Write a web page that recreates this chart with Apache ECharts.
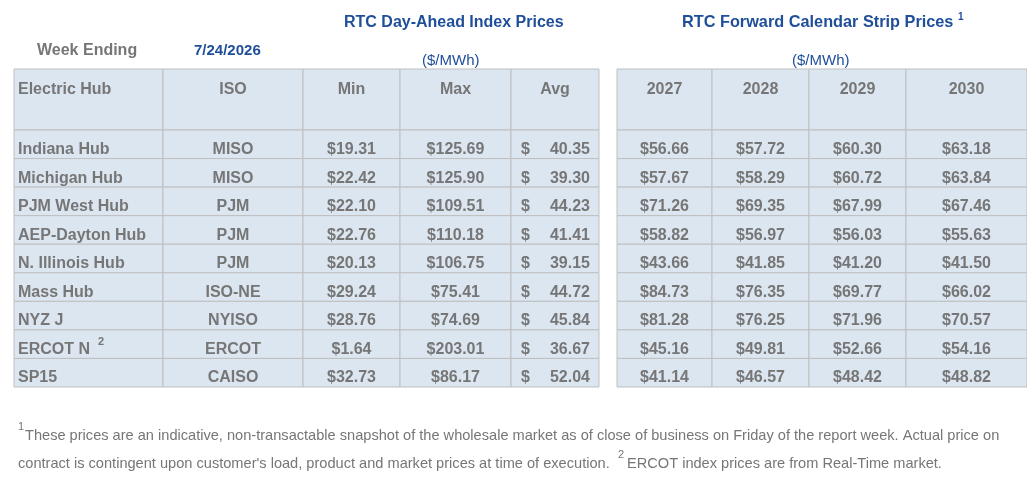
<!DOCTYPE html>
<html><head><meta charset="utf-8">
<script src="https://cdn.jsdelivr.net/npm/echarts@6/dist/echarts.min.js"></script>
<style>html,body{margin:0;padding:0;background:#fff}#c{width:1027px;height:489px}</style>
</head><body><div id="c"></div>
<script>
const hubs = ["Indiana Hub","Michigan Hub","PJM West Hub","AEP-Dayton Hub","N. Illinois Hub","Mass Hub","NYZ J","ERCOT N","SP15"];
const isos = ["MISO","MISO","PJM","PJM","PJM","ISO-NE","NYISO","ERCOT","CAISO"];
const minPrices = [19.31,22.42,22.10,22.76,20.13,29.24,28.76,1.64,32.73];
const maxPrices = [125.69,125.90,109.51,110.18,106.75,75.41,74.69,203.01,86.17];
const avgPrices = [40.35,39.30,44.23,41.41,39.15,44.72,45.84,36.67,52.04];
const fwd2027 = [56.66,57.67,71.26,58.82,43.66,84.73,81.28,45.16,41.14];
const fwd2028 = [57.72,58.29,69.35,56.97,41.85,76.35,76.25,49.81,46.57];
const fwd2029 = [60.30,60.72,67.99,56.03,41.20,69.77,71.96,52.66,48.42];
const fwd2030 = [63.18,63.84,67.46,55.63,41.50,66.02,70.57,54.16,48.82];
const leftHeaders = ["Electric Hub","ISO","Min","Max","Avg"];
const rightHeaders = ["2027","2028","2029","2030"];

// layout (pixel units of the full-canvas axes)
const L = {
  leftCols:[14,163,303,400,511,599], rightCols:[617,712,809,906,1027],
  top:69, headBottom:130, bottom:387
};
const rowH = (L.bottom-L.headBottom)/hubs.length;
const money = v => '$' + v.toFixed(2);

const cells = [];
function addRow(r, texts, aligns, cols){
  texts.forEach((t,i)=>cells.push({x0:cols[i],x1:cols[i+1],r,t,align:aligns[i]}));
}
addRow(-1, leftHeaders, ['left','center','center','center','center'], L.leftCols);
addRow(-1, rightHeaders, ['center','center','center','center'], L.rightCols);
hubs.forEach((h,r)=>{
  addRow(r,[h,isos[r],money(minPrices[r]),money(maxPrices[r]),avgPrices[r].toFixed(2)],
    ['left','center','center','center','avg'],L.leftCols);
  addRow(r,[money(fwd2027[r]),money(fwd2028[r]),money(fwd2029[r]),money(fwd2030[r])],
    ['center','center','center','center'],L.rightCols);
});

const gray='#767676', border='#bfbfbf';
function renderItem(params, api){
  const c = cells[params.dataIndex];
  const y0 = c.r<0 ? L.top : L.headBottom + c.r*rowH;
  const y1 = c.r<0 ? L.headBottom : y0 + rowH;
  const p0 = api.coord([c.x0,y0]), p1 = api.coord([c.x1,y1]);
  const ty = c.r<0 ? p0[1]+21 : p1[1]-9;
  const font = 'bold 16px "Liberation Sans", Arial, sans-serif';
  const kids = [{type:'rect',shape:{x:p0[0],y:p0[1],width:p1[0]-p0[0],height:p1[1]-p0[1]},
    style:{fill:'#dce6f1',stroke:border,lineWidth:1}}];
  if(c.align==='avg'){
    kids.push({type:'text',style:{text:'$',x:p0[0]+10,y:ty,font,fill:gray,verticalAlign:'middle'}});
    kids.push({type:'text',style:{text:c.t,x:p1[0]-9,y:ty,font,fill:gray,align:'right',verticalAlign:'middle'}});
  } else {
    const left = c.align==='left';
    kids.push({type:'text',style:{text:c.t,x:left?p0[0]+4:(p0[0]+p1[0])/2,y:ty,font,fill:gray,
      align:left?'left':'center',verticalAlign:'middle'}});
    if(c.t==='ERCOT N') kids.push({type:'text',style:{text:'2',x:p0[0]+84,y:ty-7,font:'bold 11px "Liberation Sans", Arial',fill:gray,verticalAlign:'middle'}});
  }
  return {type:'group',children:kids};
}

const chart = echarts.init(document.getElementById('c'));
const blue='#1f4e9a';
const tf = (s,w)=>(w||'bold')+' '+s+'px "Liberation Sans", Arial, sans-serif';
chart.setOption({
  animation:false,
  grid:{left:0,right:0,top:0,bottom:0},
  xAxis:{type:'value',min:0,max:1027,show:false},
  yAxis:{type:'value',min:0,max:489,inverse:true,show:false},
  series:[{type:'custom',renderItem,data:cells.map((c,i)=>[i]),silent:true}],
  graphic:[
    {type:'text',left:344,top:15,style:{text:'RTC Day-Ahead Index Prices',font:tf(16),fill:blue}},
    {type:'text',left:682,top:15,style:{text:'RTC Forward Calendar Strip Prices',font:tf(16.3),fill:blue}},
    {type:'text',left:958,top:12,style:{text:'1',font:tf(10),fill:blue}},
    {type:'text',left:37,top:43,style:{text:'Week Ending',font:tf(16),fill:gray}},
    {type:'text',left:194,top:43,style:{text:'7/24/2026',font:tf(15),fill:blue}},
    {type:'text',left:422,top:53,style:{text:'($/MWh)',font:tf(15,'normal'),fill:blue}},
    {type:'text',left:792,top:53,style:{text:'($/MWh)',font:tf(15,'normal'),fill:blue}},
    {type:'text',left:18,top:421,style:{text:'1',font:tf(11,'normal'),fill:gray}},
    {type:'text',left:25,top:428,style:{text:'These prices are an indicative, non-transactable snapshot of the wholesale market as of close of business on Friday of the report week. Actual price on',font:tf(14.6,'normal'),fill:gray}},
    {type:'text',left:18,top:456,style:{text:"contract is contingent upon customer's load, product and market prices at time of execution.",font:tf(14.6,'normal'),fill:gray}},
    {type:'text',left:618,top:449,style:{text:'2',font:tf(11,'normal'),fill:gray}},
    {type:'text',left:627,top:456,style:{text:'ERCOT index prices are from Real-Time market.',font:tf(14.6,'normal'),fill:gray}}
  ]
});
</script></body></html>
